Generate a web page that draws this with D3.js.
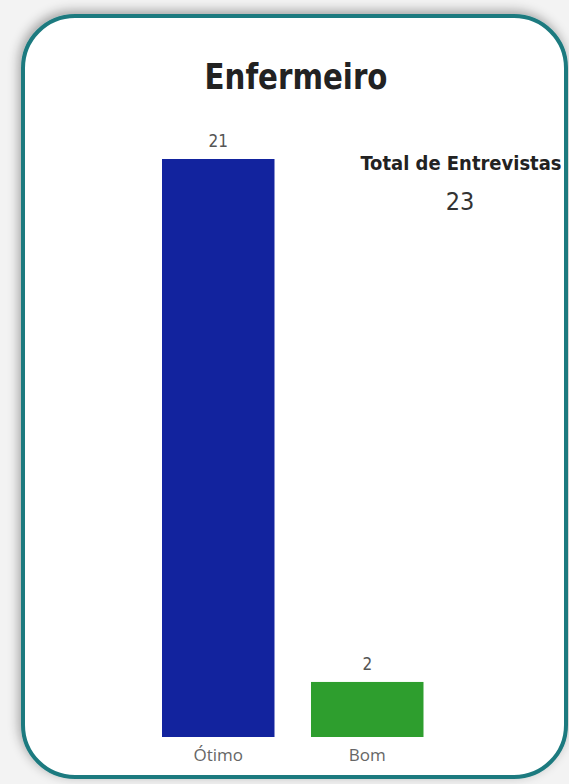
<!DOCTYPE html>
<html><head><meta charset="utf-8">
<script src="https://cdn.jsdelivr.net/npm/d3@7"></script>
<style>html,body{margin:0;padding:0;background:#f3f3f3;}svg{display:block;}</style>
</head><body>
<script>
const title = "Enfermeiro";
const categories = ["Ótimo", "Bom"];
const values = [21, 2];
const colors = ["#12239E", "#2E9E2E"];
const kpiLabel = "Total de Entrevistas";
const kpiValue = 23;

const W = 569, H = 784;
const svg = d3.select("body").append("svg").attr("width", W).attr("height", H);
const defs = svg.append("defs");
const f = defs.append("filter").attr("id","sh").attr("x","-10%").attr("y","-10%").attr("width","120%").attr("height","120%");
f.append("feGaussianBlur").attr("in","SourceAlpha").attr("stdDeviation",6);
f.append("feOffset").attr("dx",-2).attr("dy",-3).attr("result","b");
f.append("feComponentTransfer").append("feFuncA").attr("type","linear").attr("slope",0.35);
const m = f.append("feMerge"); m.append("feMergeNode"); m.append("feMergeNode").attr("in","SourceGraphic");

svg.append("rect").attr("x",23).attr("y",16).attr("width",543).attr("height",761).attr("rx",52)
  .attr("fill","#ffffff").attr("stroke","#1B7A7F").attr("stroke-width",4).attr("filter","url(#sh)");

svg.append("text").attr("x",296).attr("y",89).attr("text-anchor","middle")
  .attr("font-family","DejaVu Sans Condensed, DejaVu Sans").attr("font-weight","bold").attr("font-size",36)
  .attr("textLength",183).attr("lengthAdjust","spacingAndGlyphs")
  .attr("fill","#222").text(title);

const x = d3.scaleBand().domain(categories).range([143.75, 441.75]).paddingInner(0.245).paddingOuter(0.1225);
const y = d3.scaleLinear().domain([0, 21]).range([737, 159]);

svg.selectAll("rect.bar").data(categories).join("rect").attr("class","bar")
  .attr("x", d => x(d)).attr("width", x.bandwidth())
  .attr("y", (d,i) => y(values[i])).attr("height", (d,i) => y(0) - y(values[i]))
  .attr("fill", (d,i) => colors[i]);

svg.selectAll("text.val").data(categories).join("text").attr("class","val")
  .attr("x", d => x(d) + x.bandwidth()/2).attr("y", (d,i) => y(values[i]) - 12)
  .attr("text-anchor","middle").attr("font-family","DejaVu Sans Condensed, DejaVu Sans").attr("font-size",17)
  .attr("fill","#555").text((d,i) => values[i]);

const xAxis = d3.axisBottom(x).tickSize(0).tickPadding(12);
const g = svg.append("g").attr("transform","translate(0,737)").call(xAxis);
g.select(".domain").remove();
g.selectAll("text").attr("font-family","Open Sans, Lato").attr("font-size",17).attr("fill","#666");

svg.append("text").attr("x",461).attr("y",170).attr("text-anchor","middle")
  .attr("font-family","DejaVu Sans Condensed, DejaVu Sans").attr("font-weight","bold").attr("font-size",20)
  .attr("textLength",201).attr("lengthAdjust","spacingAndGlyphs")
  .attr("fill","#222").text(kpiLabel);
svg.append("text").attr("x",460).attr("y",210).attr("text-anchor","middle")
  .attr("font-family","DejaVu Sans Condensed, DejaVu Sans").attr("font-size",25)
  .attr("fill","#333").text(kpiValue);
</script>
</body></html>
